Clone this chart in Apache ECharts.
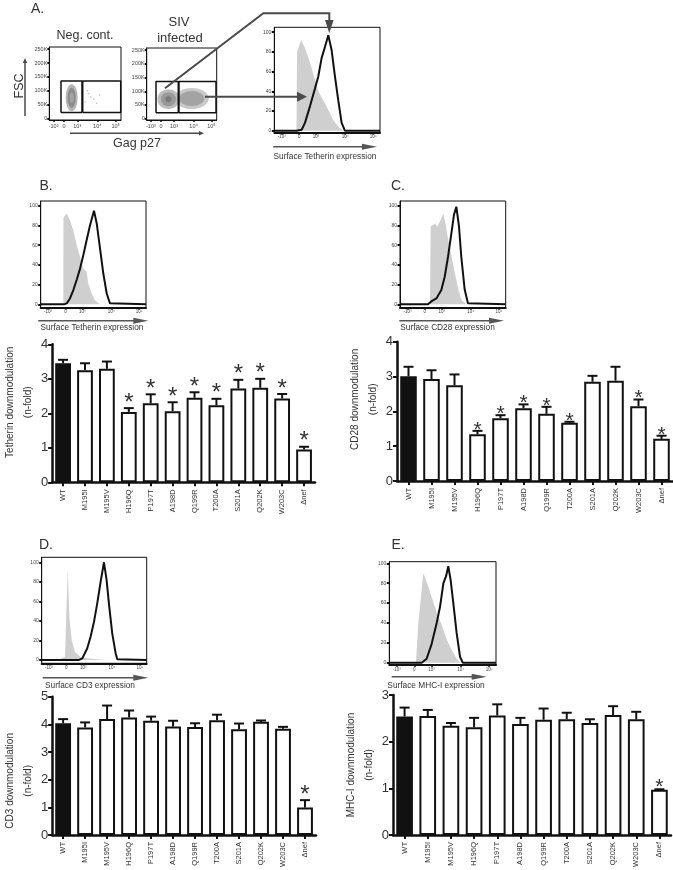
<!DOCTYPE html>
<html><head><meta charset="utf-8">
<script src="https://cdn.jsdelivr.net/npm/echarts@6/dist/echarts.min.js"></script>
<style>html,body{margin:0;padding:0;background:#fff}#c{width:673px;height:870px}</style>
</head><body><div id="c"></div>
<script>
// ---------- data ----------
const categories = ['WT','M195I','M195V','H196Q','P197T','A198D','Q199R','T200A','S201A','Q202K','W203C','Δnef'];

const tetherinMean = [3.45,3.25,3.29,2.04,2.29,2.06,2.45,2.23,2.72,2.74,2.43,0.95];
const tetherinErr  = [0.10,0.20,0.21,0.11,0.26,0.26,0.16,0.19,0.25,0.26,0.13,0.08];
const tetherinStar = [0,0,0,1,1,1,1,1,1,1,1,1];

const cd28Mean = [3.01,2.93,2.75,1.34,1.80,2.09,1.93,1.67,2.85,2.88,2.15,1.21];
const cd28Err  = [0.27,0.25,0.31,0.10,0.09,0.11,0.20,0.03,0.17,0.40,0.19,0.09];
const cd28Star = [0,0,0,1,1,1,1,1,0,0,1,1];

const cd3Mean = [4.04,3.89,4.19,4.25,4.13,3.92,3.90,4.15,3.82,4.09,3.84,0.99];
const cd3Err  = [0.15,0.18,0.49,0.25,0.15,0.21,0.14,0.20,0.21,0.05,0.07,0.27];
const cd3Star = [0,0,0,0,0,0,0,0,0,0,0,1];

const mhcMean = [2.54,2.55,2.34,2.31,2.56,2.38,2.47,2.48,2.40,2.57,2.48,0.97];
const mhcErr  = [0.19,0.13,0.06,0.20,0.24,0.13,0.24,0.14,0.08,0.19,0.16,0.01];
const mhcStar = [0,0,0,0,0,0,0,0,0,0,0,1];

// histogram tick positions (logicle display units 0-100) and labels
const histXTicks = [7, 23.5, 39.5, 67, 93.5];
const logLabels = ['-10³','0','10³','10⁴','10⁵'];
const histYTicks = [0,20,40,60,80,100];
const flowXTicks = [6, 20.5, 39, 67, 92.5];
const flowYTicks = [0,50,100,150,200,250];

// histograms: [display unit, % of max]
const histA_ctrl = [[21,0],[21.5,80],[25.3,92],[29,84],[33.8,69],[38.5,52],[41.6,40],[46.4,31],[51.1,21],[55.8,11],[60.6,4],[65.3,0]];
const histA_inf  = [[0,0],[21.2,0],[25.9,1],[29,8],[33.8,25],[38.5,43],[41.6,55],[44.8,74],[47.9,85],[51.1,97],[54.2,82],[57.4,55],[60.5,31],[63.7,8],[66.8,0],[100,0]];
const histB_ctrl = [[21.5,0],[21.6,88],[24.7,92],[27.8,85],[31,75],[34.2,60],[37.3,48],[40.5,36],[43.6,33],[45.2,21],[48.4,11],[51.6,4],[56.3,0]];
const histB_inf  = [[0,0],[22,0],[24.7,1],[27.8,6],[31,14.5],[34.2,25],[37.3,36],[40.5,50],[43.6,65],[46.8,80],[50.6,95],[53.2,82],[56.3,57],[59.5,31],[62.7,11],[65.8,1],[67.4,0],[100,0]];
const histC_ctrl = [[28.4,0],[29,79],[33.1,82],[35.3,79],[37.8,84],[41,92],[43.5,79],[45.7,65],[48.9,48],[52,31],[55.2,15],[58.4,4],[63.1,0]];
const histC_inf  = [[0,0],[26.5,0],[29.6,3],[34.4,6],[39.1,14.5],[42.3,28],[45.4,48],[48.6,72],[51.1,91],[53.3,99],[55.8,79],[58,48],[61.2,15],[64.3,1],[65.9,0],[100,0]];
const histD_ctrl = [[17,0],[19,2],[22.2,3],[23.2,40],[24.8,92],[26.4,44],[28.6,20],[31.7,8.5],[36.5,3.4],[42.8,1.7],[52.3,0.7],[61.8,0]];
const histD_inf  = [[0,0],[35.5,0],[38.7,1.7],[43.4,12],[46.6,24],[49.8,39],[52.9,58],[56.1,80],[59.3,100],[61.8,82],[64,58],[67.2,27],[70.4,7],[72,0.7],[73.5,0],[100,0]];
const histE_ctrl = [[25,0],[27.2,40],[31.9,90],[35,81.5],[39.7,66],[44.4,51],[49.1,38],[53.8,23],[58.5,13],[63.1,4],[66.9,0]];
const histE_inf  = [[0,0],[30.4,0],[35,4],[39.7,19],[44.4,40],[47.5,56],[50.7,80],[53.2,87],[55.3,97],[57.5,83],[60,60],[63.1,30],[66.3,6],[68.8,0],[100,0]];

// flow plots: [Gag p27 display unit, FSC in K]
const negGateLeft  = [[16.3,21.6],[45.6,21.6],[45.6,135.8],[16.3,135.8],[16.3,21.6]];
const negGateRight = [[46.6,21.6],[99.6,21.6],[99.6,135.8],[46.6,135.8],[46.6,21.6]];
const sivGateLeft  = [[13.3,21.6],[45.1,21.6],[45.1,135.8],[13.3,135.8],[13.3,21.6]];
const sivGateRight = [[46.1,21.6],[99,21.6],[99,135.8],[46.1,135.8],[46.1,21.6]];
const negPop = [[31.2,75.6]];
const negSparse = [[55,90],[62,70],[50,60],[70,85],[58,78],[53,100],[66,55]];
const sivPopNeg = [[31,71]];
const sivPopPos = [[64.3,73.5]];

// ---------- build ----------
const FONT = '"Liberation Sans", Arial, sans-serif';
const INK = '#111';
const TXT = '#333';
const grids = [], xAxes = [], yAxes = [], series = [], G = [];

function addGrid(g){ grids.push(Object.assign({containLabel:false}, g)); return grids.length-1; }

function histPanel(g, ymin, ymax, ctrl, inf){
  const gi = addGrid(Object.assign({show:true, borderColor:INK, borderWidth:1}, g));
  xAxes.push({gridIndex:gi, type:'value', min:0, max:100,
    axisLine:{show:true, onZero:false, lineStyle:{color:INK, width:2}},
    axisTick:{show:true, customValues:histXTicks, length:2, lineStyle:{color:INK, width:1.5}},
    axisLabel:{show:true, customValues:histXTicks, formatter:v=>logLabels[histXTicks.indexOf(v)]||'', fontSize:4.5, color:'#444', margin:2, fontFamily:FONT},
    splitLine:{show:false}});
  yAxes.push({gridIndex:gi, type:'value', min:ymin, max:ymax,
    axisLine:{show:true, onZero:false, lineStyle:{color:INK, width:1}},
    axisTick:{show:true, customValues:histYTicks, length:2.5, lineStyle:{color:INK, width:2}},
    axisLabel:{show:true, customValues:histYTicks, fontSize:5, color:'#444', margin:3, fontFamily:FONT},
    splitLine:{show:false}});
  series.push({type:'line', xAxisIndex:gi, yAxisIndex:gi, data:ctrl, symbol:'none', silent:true,
    lineStyle:{width:0}, areaStyle:{color:'#cfcfcf', opacity:1}, z:2});
  series.push({type:'line', xAxisIndex:gi, yAxisIndex:gi, data:inf, symbol:'none', silent:true,
    lineStyle:{width:2, color:INK}, z:3});
}

function flowPanel(g, gates, blobs){
  const gi = addGrid(Object.assign({show:true, borderColor:INK, borderWidth:1}, g));
  xAxes.push({gridIndex:gi, type:'value', min:0, max:100,
    axisLine:{show:true, onZero:false, lineStyle:{color:INK, width:1}},
    axisTick:{show:true, customValues:flowXTicks, length:2, lineStyle:{color:INK, width:1.5}},
    axisLabel:{show:true, customValues:flowXTicks, formatter:v=>logLabels[flowXTicks.indexOf(v)]||'', fontSize:5.5, color:'#444', margin:3, fontFamily:FONT},
    splitLine:{show:false}});
  yAxes.push({gridIndex:gi, type:'value', min:-5, max:258,
    axisLine:{show:true, onZero:false, lineStyle:{color:INK, width:1}},
    axisTick:{show:true, customValues:flowYTicks, length:2, lineStyle:{color:INK, width:2}},
    axisLabel:{show:true, customValues:flowYTicks, formatter:v=>v===0?'0':v+'K', fontSize:5.5, color:'#444', margin:2, fontFamily:FONT},
    splitLine:{show:false}});
  blobs.forEach(b=>series.push({type:'scatter', xAxisIndex:gi, yAxisIndex:gi, data:b.data, symbol:'circle',
    symbolSize:b.size, itemStyle:{color:b.color, opacity:b.opacity||1}, silent:true, z:2}));
  gates.forEach(gd=>series.push({type:'line', xAxisIndex:gi, yAxisIndex:gi, data:gd, symbol:'none', silent:true,
    lineStyle:{color:INK, width:1.5}, z:4}));
}

function errRenderer(cfg){
  return function(params, api){
    const i = api.value(0), m = api.value(1), e = api.value(2), s = api.value(3);
    const p0 = api.coord([i, m]), p1 = api.coord([i, m+e]);
    const hw = 5;
    const children = [
      {type:'line', shape:{x1:p0[0], y1:p0[1], x2:p1[0], y2:p1[1]}, style:{stroke:INK, lineWidth:2}},
      {type:'line', shape:{x1:p1[0]-hw, y1:p1[1], x2:p1[0]+hw, y2:p1[1]}, style:{stroke:INK, lineWidth:2}}
    ];
    if (s) children.push({type:'text', x:p1[0], y:p1[1]+cfg.starDy,
      style:{text:'*', fontSize:cfg.starSize, fontFamily:FONT, fill:TXT, align:'center', verticalAlign:'middle', textAlign:'center', textVerticalAlign:'middle'}});
    return {type:'group', children};
  };
}

function barPanel(p){
  const gi = addGrid(p.grid);
  xAxes.push({gridIndex:gi, type:'category', data:categories,
    axisLine:{show:true, lineStyle:{color:INK, width:2.5}},
    axisTick:{show:true, alignWithLabel:true, length:4, lineStyle:{color:INK, width:2}},
    axisLabel:{rotate:90, interval:0, fontSize:7.5, color:TXT, margin:7, fontFamily:FONT},
    splitLine:{show:false}});
  yAxes.push({gridIndex:gi, type:'value', min:0, max:p.max, interval:1,
    axisLine:{show:true, lineStyle:{color:INK, width:2.5}},
    axisTick:{show:true, length:4, lineStyle:{color:INK, width:2}},
    axisLabel:{fontSize:13, color:TXT, margin:4, fontFamily:FONT},
    splitLine:{show:false},
    name:p.title, nameLocation:'middle', nameRotate:90, nameGap:p.nameGap,
    nameTextStyle:{fontSize:10, lineHeight:18, color:TXT, fontFamily:FONT, padding:p.titlePad}});
  series.push({type:'bar', xAxisIndex:gi, yAxisIndex:gi, barWidth:'72%', silent:true,
    data:p.mean.map((v,i)=>({value:v, itemStyle:{color: i===0 ? INK : '#fff'}})),
    itemStyle:{borderColor:INK, borderWidth:2}, z:2});
  series.push({type:'custom', xAxisIndex:gi, yAxisIndex:gi, silent:true, z:3,
    encode:{x:0, y:1},
    data:p.mean.map((v,i)=>[i, v, p.err[i], p.star[i]]),
    renderItem:errRenderer(p)});
}

// flow plots (panel A)
flowPanel({left:49.3, top:47, width:71.7, height:73}, [negGateLeft, negGateRight], [
  {data:negSparse, size:1.5, color:'#bbb'},
  {data:negPop, size:[12,27], color:'#b5b5b5'},
  {data:negPop, size:[8,20], color:'#8c8c8c'},
  {data:negPop, size:[4,10], color:'#a5a5a5'}
]);
flowPanel({left:146.7, top:48, width:70, height:72}, [sivGateLeft, sivGateRight], [
  {data:sivPopPos, size:[34,21], color:'#c9c9c9'},
  {data:sivPopPos, size:[25,15], color:'#a3a3a3'},
  {data:sivPopNeg, size:[22,20], color:'#bdbdbd'},
  {data:sivPopNeg, size:[15,14], color:'#999'},
  {data:sivPopNeg, size:[6,6], color:'#7a7a7a'}
]);

// histograms
histPanel({left:274.3, top:27.3, width:105.7, height:105.4}, -2, 105, histA_ctrl, histA_inf);
histPanel({left:40.7, top:201, width:105.3, height:106.7}, -3.4, 104.8, histB_ctrl, histB_inf);
histPanel({left:400, top:201, width:105.7, height:106.7}, -3.4, 104.8, histC_ctrl, histC_inf);
histPanel({left:41.7, top:557.3, width:105, height:106}, -3.4, 105.1, histD_ctrl, histD_inf);
histPanel({left:389.3, top:561.7, width:106.7, height:103.3}, -2.3, 101.6, histE_ctrl, histE_inf);

// bar charts
barPanel({grid:{left:43, top:344.3, width:272, height:138}, max:4, mean:tetherinMean, err:tetherinErr, star:tetherinStar,
  title:'Tetherin downmodulation\n(n-fold)', nameGap:4.5, titlePad:[0,0,0,22], starSize:24, starDy:-5});
barPanel({grid:{left:397, top:341.7, width:276, height:139.3}, max:4, mean:cd28Mean, err:cd28Err, star:cd28Star,
  title:'CD28 downmodulation\n(n-fold)', nameGap:3, titlePad:[0,0,0,24], starSize:21, starDy:-1});
barPanel({grid:{left:40, top:696.7, width:276, height:139.3}, max:5, mean:cd3Mean, err:cd3Err, star:cd3Star,
  title:'CD3 downmodulation\n(n-fold)', nameGap:3.5, titlePad:[0,30,0,0], starSize:24, starDy:-5});
barPanel({grid:{left:393, top:695, width:278, height:140.3}, max:3, mean:mhcMean, err:mhcErr, star:mhcStar,
  title:'MHC-I downmodulation\n(n-fold)', nameGap:1, titlePad:[0,0,0,0], starSize:21, starDy:-2});

// ---------- annotations ----------
const ANN = '#4a4a4a';
function text(x, y, t, size, extra){
  G.push(Object.assign({type:'text', x, y, z:100,
    style:{text:t, fontSize:size, fontFamily:FONT, fill:TXT, align:'center', verticalAlign:'middle', textAlign:'center', textVerticalAlign:'middle'}}, extra||{}));
}
function arrow(x1, y1, x2, y2, len, hw, color, w){
  const dx = x2-x1, dy = y2-y1, L = Math.hypot(dx,dy), ux = dx/L, uy = dy/L;
  const bx = x2-ux*len, by = y2-uy*len;
  G.push({type:'line', z:100, shape:{x1, y1, x2:bx+ux*1, y2:by+uy*1}, style:{stroke:color, lineWidth:w}});
  G.push({type:'polygon', z:100, shape:{points:[[x2,y2],[bx-uy*hw, by+ux*hw],[bx+uy*hw, by-ux*hw]]}, style:{fill:color}});
}

text(37.5, 9, 'A.', 14);
text(85, 36, 'Neg. cont.', 12.5);
text(179, 22, 'SIV', 13);
text(180, 38, 'infected', 13);
text(19.5, 86, 'FSC', 12.5, {rotation:Math.PI/2});
arrow(25, 116, 25, 58, 5, 2.2, ANN, 1.5);
arrow(70, 133.3, 204, 133.3, 5, 2.2, ANN, 1.5);
text(137, 143.5, 'Gag p27', 12.5);

// connectors into histogram A
G.push({type:'polyline', z:100, shape:{points:[[165,88.3],[263.3,13.3],[329.3,13.3],[329.3,22]]}, style:{stroke:ANN, lineWidth:2, fill:null}});
G.push({type:'polygon', z:100, shape:{points:[[329.3,33.3],[325,20],[333.6,20]]}, style:{fill:ANN}});
arrow(205, 96.7, 307, 96.7, 10, 5, ANN, 2);

// histogram axis arrows and titles
arrow(273.3, 146.7, 377, 146.7, 15, 3, '#555', 1.5);
text(325, 157, 'Surface Tetherin expression', 8.3);
arrow(38.3, 320.7, 148.3, 320.7, 15, 3, '#555', 1.5);
text(92, 328, 'Surface Tetherin expression', 8.3);
arrow(399.3, 320.7, 504, 320.7, 15, 3, '#555', 1.5);
text(447.5, 328, 'Surface CD28 expression', 8.3);
arrow(42.7, 677.7, 148.3, 677.7, 15, 3, '#555', 1.5);
text(90, 686, 'Surface CD3 expression', 8.3);
arrow(391.7, 676.7, 486.7, 676.7, 15, 3, '#555', 1.5);
text(436, 685.5, 'Surface MHC-I expression', 8.3);

text(46, 186, 'B.', 14);
text(398, 186, 'C.', 14);
text(46, 545, 'D.', 14);
text(398, 545, 'E.', 14);

const chart = echarts.init(document.getElementById('c'));
chart.setOption({
  animation:false,
  backgroundColor:'#fff',
  textStyle:{fontFamily:FONT},
  grid:grids, xAxis:xAxes, yAxis:yAxes, series, graphic:G
});
</script></body></html>
